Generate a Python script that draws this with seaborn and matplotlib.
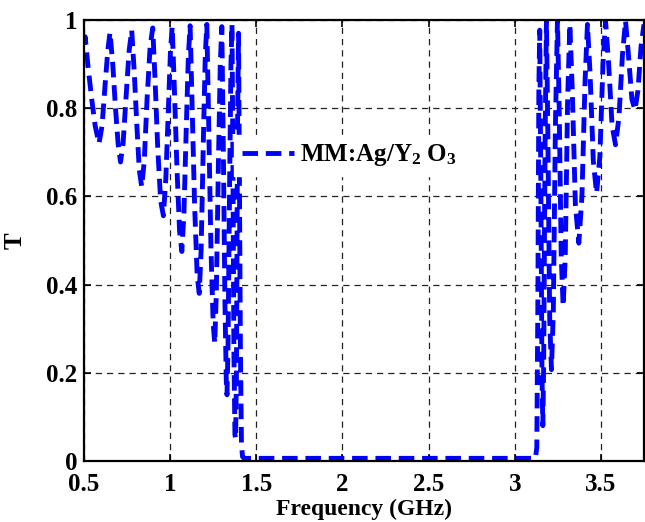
import matplotlib
matplotlib.use("Agg")
import matplotlib.pyplot as plt
import seaborn as sns
import pandas as pd
from matplotlib.ticker import FormatStrFormatter

# ---- data ----
freq_low = [0.500, 0.507, 0.522, 0.545, 0.565, 0.587, 0.605, 0.622, 0.638, 0.651,
            0.667, 0.683, 0.698, 0.712, 0.727, 0.745, 0.762, 0.777,
            0.792, 0.807, 0.821, 0.835, 0.850, 0.866, 0.884, 0.899,
            0.913, 0.928, 0.945, 0.961, 0.975, 0.990, 1.002, 1.012,
            1.025, 1.040, 1.055, 1.068, 1.080, 1.094, 1.106, 1.116,
            1.128, 1.142, 1.157, 1.169, 1.180, 1.193, 1.204, 1.213,
            1.224, 1.237, 1.250, 1.259, 1.268, 1.280, 1.291, 1.300,
            1.309, 1.318, 1.326, 1.330, 1.336, 1.345, 1.353, 1.359,
            1.364, 1.370, 1.376, 1.380, 1.385, 1.391, 1.397,
            1.402, 1.408, 1.414, 1.420, 1.430]
T_low = [0.945, 0.962, 0.900, 0.820, 0.760, 0.720, 0.760, 0.850, 0.930, 0.972,
         0.900, 0.800, 0.720, 0.678, 0.720, 0.830, 0.930, 0.977,
         0.880, 0.760, 0.660, 0.622, 0.680, 0.820, 0.940, 0.982,
         0.860, 0.710, 0.590, 0.556, 0.640, 0.800, 0.930, 0.985,
         0.840, 0.660, 0.520, 0.475, 0.560, 0.760, 0.920, 0.987,
         0.800, 0.580, 0.420, 0.380, 0.480, 0.730, 0.920, 0.990,
         0.760, 0.480, 0.310, 0.267, 0.380, 0.670, 0.900, 0.985,
         0.700, 0.360, 0.180, 0.150, 0.260, 0.620, 0.900, 0.990,
         0.700, 0.250, 0.060, 0.050, 0.200, 0.750, 0.970,
         0.650, 0.250, 0.040, 0.010, 0.006]

freq_high = [3.120, 3.128, 3.134, 3.140, 3.145,
             3.152, 3.158, 3.163, 3.168, 3.176, 3.184,
             3.192, 3.203, 3.213, 3.224, 3.236, 3.248,
             3.258, 3.270, 3.281, 3.293, 3.307, 3.320,
             3.334, 3.352, 3.372, 3.390, 3.408, 3.422,
             3.437, 3.456, 3.475, 3.494, 3.512, 3.527,
             3.545, 3.565, 3.585, 3.605, 3.625, 3.643,
             3.660, 3.680, 3.698, 3.715, 3.733, 3.750]
T_high = [0.006, 0.030, 0.350, 0.850, 0.977,
          0.600, 0.200, 0.080, 0.220, 0.720, 1.000,
          0.750, 0.320, 0.207, 0.340, 0.760, 1.000,
          0.800, 0.460, 0.351, 0.460, 0.820, 0.990,
          0.840, 0.580, 0.494, 0.600, 0.860, 0.990,
          0.880, 0.680, 0.607, 0.690, 0.900, 0.998,
          0.900, 0.760, 0.717, 0.780, 0.920, 0.998,
          0.920, 0.820, 0.796, 0.840, 0.940, 0.990]

x_ticks = [0.5, 1, 1.5, 2, 2.5, 3, 3.5]
y_ticks = [0, 0.2, 0.4, 0.6, 0.8, 1]
series_label = "MM:Ag/Y$_2$ O$_3$"

df = pd.DataFrame({"Frequency": freq_low + freq_high, "T": T_low + T_high})

sns.set_theme(style="white")
plt.rcParams["font.family"] = ["Liberation Serif", "DejaVu Serif"]
plt.rcParams["font.weight"] = "bold"
plt.rcParams["text.color"] = "black"
plt.rcParams["axes.labelcolor"] = "black"
plt.rcParams["xtick.color"] = "black"
plt.rcParams["ytick.color"] = "black"
plt.rcParams["mathtext.fontset"] = "custom"
plt.rcParams["mathtext.rm"] = "Liberation Serif:bold"
plt.rcParams["mathtext.it"] = "Liberation Serif:bold"
plt.rcParams["mathtext.bf"] = "Liberation Serif:bold"
plt.rcParams["mathtext.default"] = "bf"

fig = plt.figure(figsize=(6.45, 5.22), dpi=100)
ax = fig.add_axes([0.1302, 0.1169, 0.8682, 0.8448])

sns.lineplot(data=df, x="Frequency", y="T", ax=ax, color="#0000FF",
             linewidth=3.5, estimator=None, sort=False, label=series_label)
line = ax.get_lines()[0]
line.set_linestyle((0, (3.2, 1.6)))
line.set_dash_capstyle("butt")

ax.set_xlim(0.5, 3.75)
ax.set_ylim(0, 1)
ax.set_xticks(x_ticks)
ax.set_yticks(y_ticks)
ax.xaxis.set_major_formatter(FormatStrFormatter("%g"))
ax.yaxis.set_major_formatter(FormatStrFormatter("%g"))

ax.grid(True, color="#222222", linestyle=(0, (5, 4)), linewidth=0.9)
for s in ax.spines.values():
    s.set_visible(True)
    s.set_color("black")
    s.set_linewidth(1.6)
ax.tick_params(direction="in", length=5, width=1.2, top=True, right=True,
               bottom=True, left=True, labelsize=18, colors="black",
               labelcolor="black")
ax.tick_params(axis="x", pad=9)
ax.tick_params(axis="y", pad=5)
for lab in ax.get_xticklabels() + ax.get_yticklabels():
    lab.set_fontweight("bold")
    lab.set_color("black")

ax.set_xlabel("Frequency (GHz)", fontsize=17, fontweight="bold", labelpad=2,
              color="black")
ax.set_ylabel("T", fontsize=18, fontweight="bold", labelpad=14, color="black")

leg = ax.legend(loc="center left", bbox_to_anchor=(0.268, 0.693),
                frameon=True, fancybox=False, borderaxespad=0,
                handlelength=2.1, handletextpad=0.25, borderpad=0.3,
                prop={"family": "Liberation Serif", "weight": "bold", "size": 18})
leg.get_frame().set_facecolor("white")
leg.get_frame().set_edgecolor("white")
leg.get_frame().set_alpha(1.0)
for t in leg.get_texts():
    t.set_color("black")

fig.savefig("out.png", dpi=100)
